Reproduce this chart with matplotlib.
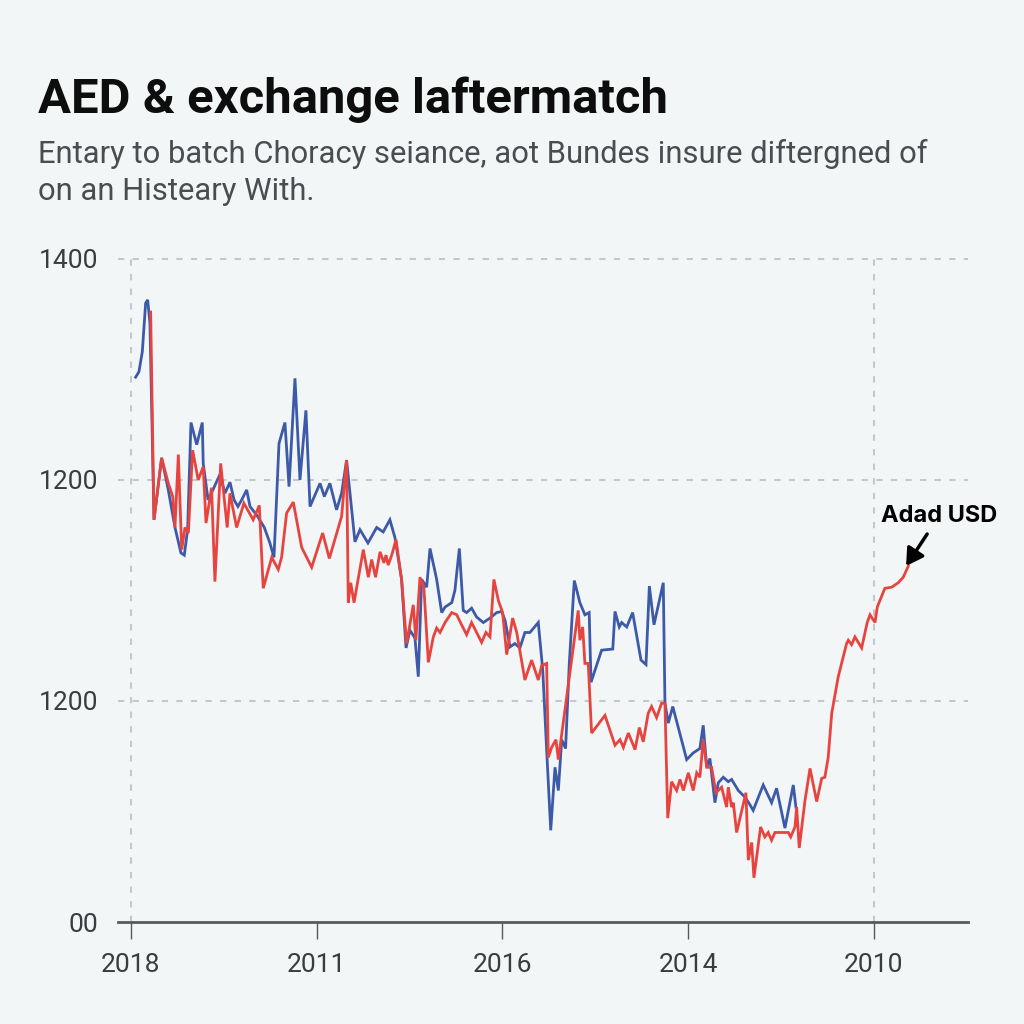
import matplotlib.pyplot as plt

# valeurs (x en centièmes d'intervalle entre graduations)
blue_x = [2.5, 4.3, 6.1, 7.9, 9.0, 10.2, 12.4, 16.5, 20.1, 23.7, 26.9, 28.7, 30.5, 32.3, 35.4, 38.4,
          38.9, 41.5, 44.1, 47.9, 50.6, 53.3, 55.5, 57.6, 59.6, 62.3, 64.1, 67.8, 71.8, 74.8, 77.0,
          79.7, 82.9, 85.1, 88.3, 91.0, 94.2, 96.4, 101.8, 104.1, 107.1, 110.7, 113.4, 116.1, 120.6,
          123.3, 127.6, 132.3, 135.8, 139.4, 142.1, 145.7, 148.1, 150.2, 152.9, 154.7, 156.5, 159.2,
          161.0, 164.6, 167.3, 169.1, 172.7, 174.4, 176.8, 178.9, 180.7, 183.4, 186.1, 189.7, 193.3,
          196.9, 199.6, 201.4, 204.1, 206.7, 209.4, 212.1, 214.8, 219.3, 221.7, 223.8, 226.0, 228.3,
          230.1, 231.9, 234.0, 236.0, 238.7, 241.7, 244.4, 246.7, 247.7, 253.4, 259.4, 260.6, 262.9,
          264.2, 266.9, 270.1, 274.6, 277.3, 279.1, 281.6, 286.6, 287.5, 289.3, 291.7, 299.2, 302.7,
          306.3, 308.1, 310.0, 311.7, 314.4, 316.2, 318.9, 321.6, 323.4, 327.0, 330.6, 333.3, 335.0,
          340.4, 344.9, 347.6, 352.1, 356.6, 358.0]
blue_y = [1293, 1298, 1316, 1360, 1363, 1342, 1164, 1220, 1191, 1157, 1134, 1132, 1155, 1252, 1232, 1252,
          1215, 1182, 1191, 1205, 1188, 1198, 1182, 1176, 1182, 1191, 1176, 1168, 1157, 1143, 1130,
          1233, 1252, 1194, 1292, 1200, 1263, 1176, 1197, 1185, 1197, 1173, 1188, 1218, 1144,
          1155, 1143, 1157, 1153, 1164, 1148, 1110, 1048, 1064, 1057, 1022, 1110, 1103,
          1138, 1110, 1080, 1085, 1089, 1100, 1138, 1082, 1080, 1084, 1076, 1071, 1075,
          1080, 1081, 1073, 1049, 1052, 1048, 1062, 1062, 1071, 1028, 956, 883, 940,
          919, 965, 957, 1034, 1109, 1089, 1078, 1080, 1017, 1046, 1047, 1081, 1067,
          1071, 1067, 1080, 1037, 1033, 1104, 1069, 1107, 998, 980, 995, 947, 953,
          957, 978, 940, 948, 908, 926, 931, 927, 929, 919, 913, 906, 901,
          924, 908, 921, 885, 924, 904]

red_x = [10.6, 12.4, 16.5, 20.1, 22.5, 23.7, 25.5, 27.3, 29.1, 30.9, 33.2, 36.2, 38.9, 40.4, 43.4, 45.2,
         48.3, 51.8, 53.3, 56.9, 60.8, 65.8, 69.1, 71.2, 75.8, 79.3, 81.1, 83.8, 87.4, 91.9, 97.3,
         103.2, 106.8, 113.4, 116.1, 117.0, 118.3, 120.1, 125.1, 127.8, 129.6, 131.7, 134.1, 136.2,
         137.3, 138.5, 140.4, 142.7, 145.7, 148.4, 152.0, 153.4, 155.6, 157.7, 160.1, 162.8, 164.6,
         166.4, 169.1, 172.7, 175.4, 178.0, 180.7, 183.4, 186.1, 188.8, 191.1, 193.3, 195.4, 197.8,
         200.1, 202.3, 205.5, 207.7, 212.1, 215.7, 219.3, 221.1, 223.8, 224.7, 226.5, 228.8, 230.1,
         240.8, 241.7, 243.2, 244.4, 246.2, 248.0, 255.2, 260.6, 263.3, 265.1, 267.8, 271.4, 273.7,
         275.8, 278.5, 280.3, 283.0, 285.7, 287.5, 289.0, 291.1, 293.8, 295.6, 297.4, 300.1, 302.7,
         304.6, 306.3, 308.1, 310.0, 312.6, 315.0, 318.0, 320.7, 321.6, 323.4, 324.3, 326.1, 331.1,
         332.4, 334.2, 335.4, 339.0, 341.3, 343.1, 344.9, 346.7, 350.3, 353.9, 355.2, 357.5, 358.4,
         359.8, 362.9, 365.6, 369.2, 371.9, 373.6, 375.4, 377.3, 380.8, 385.3, 386.2, 388.0, 389.8,
         393.4, 396.4, 397.9, 400.6, 401.8, 405.9, 409.6, 413.1, 415.8, 418.5]
red_y = [1352, 1164, 1220, 1197, 1185, 1157, 1223, 1137, 1157, 1152, 1227, 1200, 1212, 1161, 1193, 1108,
         1215, 1157, 1188, 1157, 1179, 1164, 1177, 1102, 1130, 1119, 1130, 1170, 1180, 1139, 1121,
         1152, 1129, 1167, 1218, 1089, 1107, 1089, 1137, 1112, 1128, 1112, 1135, 1125,
         1132, 1123, 1132, 1146, 1110, 1052, 1087, 1055, 1112, 1103, 1035, 1058, 1066,
         1062, 1071, 1080, 1078, 1069, 1060, 1071, 1062, 1053, 1062, 1058, 1110, 1091,
         1080, 1042, 1075, 1062, 1019, 1037, 1019, 1032, 1034, 949, 958, 965, 947,
         1082, 1055, 1067, 1034, 1034, 971, 987, 960, 965, 958, 971, 956, 976,
         963, 989, 995, 985, 998, 998, 894, 927, 919, 929, 919, 935, 919,
         935, 931, 965, 940, 940, 917, 922, 904, 922, 904, 908, 881, 917,
         856, 872, 840, 886, 877, 881, 874, 881, 881, 881, 877, 886, 904,
         867, 910, 939, 909, 930, 931, 949, 989, 1022, 1052, 1055, 1051, 1058,
         1048, 1071, 1078, 1071, 1085, 1102, 1103, 1107, 1112, 1122]

x_ticks = [0, 100, 200, 300, 400]
x_labels = ["2018", "2011", "2016", "2014", "2010"]
y_ticks = [800, 1000, 1200, 1400]
y_labels = ["00", "1200", "1200", "1400"]

bg = "#f3f6f7"
blue = "#3d5aa8"
red = "#e8443f"

fig = plt.figure(figsize=(10.24, 10.24), dpi=100, facecolor=bg)
ax = fig.add_axes([0.1152, 0.0996, 0.83, 0.6475], facecolor=bg)

ax.plot(blue_x, blue_y, color=blue, lw=2.0, zorder=3, solid_joinstyle="miter")
ax.plot(red_x, red_y, color=red, lw=2.0, zorder=4, solid_joinstyle="miter")

ax.set_xlim(-7, 450.6)
ax.set_ylim(800, 1400)

for yv in y_ticks[1:]:
    ax.axhline(yv, color="#c4c8cc", lw=1.5, ls=(0, (3, 4)), zorder=1, clip_on=False)
for xv in [x_ticks[0], x_ticks[-1]]:
    ax.axvline(xv, color="#c4c8cc", lw=1.5, ls=(0, (3, 4)), zorder=1)

for s in ["top", "right", "left"]:
    ax.spines[s].set_visible(False)
ax.spines["bottom"].set_color("#555a5e")
ax.spines["bottom"].set_linewidth(2)

ax.set_xticks(x_ticks)
ax.set_xticklabels(x_labels)
ax.set_yticks(y_ticks)
ax.set_yticklabels(y_labels)
ax.tick_params(axis="x", length=12, width=1, color="#555a5e", pad=10, labelsize=19, labelcolor="#3a3d40")
ax.tick_params(axis="y", length=0, pad=14, labelsize=19, labelcolor="#3a3d40")
for lab in ax.get_xticklabels() + ax.get_yticklabels():
    lab.set_fontfamily("Roboto")

ax.annotate("Adad USD", xy=(red_x[-1] - 2, red_y[-1] - 2), xytext=(25, 38),
            textcoords="offset points", ha="center", va="center",
            fontsize=17, fontweight="bold", family="Inter", color="black",
            arrowprops=dict(arrowstyle="-|>,head_width=0.35,head_length=0.6", color="black",
                            lw=2.5, shrinkA=4, shrinkB=2))

fig.text(0.037, 0.89, "AED & exchange laftermatch", fontsize=35.3, fontweight="bold",
         family="Roboto", color="#0d0d0d", va="baseline")
fig.text(0.037, 0.841, "Entary to batch Choracy seiance, aot Bundes insure diftergned of",
         fontsize=22.3, family="Roboto", color="#4a4d50", va="baseline")
fig.text(0.037, 0.805, "on an Histeary With.",
         fontsize=22.3, family="Roboto", color="#4a4d50", va="baseline")

fig.savefig("out.png", dpi=100, facecolor=bg)
